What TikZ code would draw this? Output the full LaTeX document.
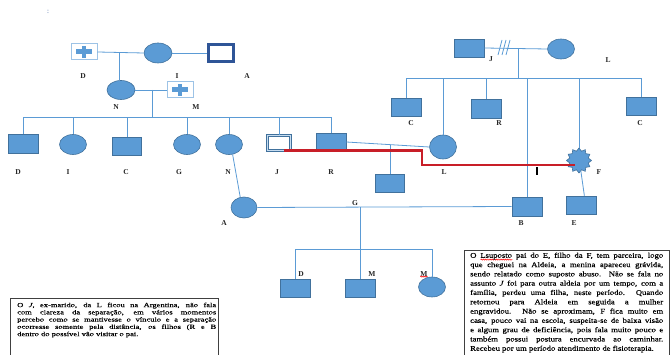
\documentclass[tikz,border=0pt]{standalone}
\usepackage{fontspec}
\setmainfont{Liberation Serif}
\newfontfamily\boxfontA[FakeStretch=1.35,FakeBold=0.6]{Liberation Serif}
\newfontfamily\boxfontB[FakeStretch=1.2,FakeBold=0.6]{Liberation Serif}
\usetikzlibrary{shapes.geometric,decorations.pathmorphing}
\definecolor{lineblue}{RGB}{91,155,213}
\definecolor{fillblue}{RGB}{91,155,213}
\definecolor{bordblue}{RGB}{65,113,156}
\definecolor{lightbord}{RGB}{157,195,230}
\definecolor{darkblue}{RGB}{47,85,151}
\definecolor{redline}{RGB}{200,30,40}
\definecolor{boxgray}{RGB}{64,64,64}
\newcommand{\drawgcross}[1]{%
  \fill[fillblue] ([shift={(-8,-2.5)}]#1.center) rectangle ([shift={(8,2.5)}]#1.center);
  \fill[fillblue] ([shift={(-2.2,-5.8)}]#1.center) rectangle ([shift={(2.2,5.8)}]#1.center);}
\newsavebox{\wavebox}
\newlength{\wavelen}
\newcommand{\redwave}[1]{\sbox{\wavebox}{#1}\setlength{\wavelen}{\wd\wavebox}%
  \rlap{\tikz[baseline=0pt,x=1pt,y=1pt]\draw[red,line width=0.5pt,decorate,decoration={snake,amplitude=0.6pt,segment length=2.2pt}] (0pt,-1.8pt) -- (\wavelen,-1.8pt);}\usebox{\wavebox}}
\begin{document}
\begin{tikzpicture}[x=1pt,y=-1pt,
 male/.style={rectangle, draw=bordblue, fill=fillblue, line width=0.6pt, minimum width=30pt, minimum height=18pt, inner sep=0},
 female/.style={ellipse, draw=bordblue, fill=fillblue, line width=0.6pt, minimum width=27pt, minimum height=20pt, inner sep=0},
 deadmale/.style={rectangle, draw=lightbord, fill=white, line width=1pt, minimum width=26pt, minimum height=16pt, inner sep=0},
 lbl/.style={font=\fontsize{7.5}{8}\selectfont\bfseries, inner sep=0, text=black!85},
 rel/.style={draw=lineblue, line width=0.8pt},
 boxframe/.style={draw=boxgray, line width=1.1pt, anchor=north west, inner sep=0},
]
\useasboundingbox (0,0) rectangle (670,355);
\node[font=\fontsize{7}{8}\selectfont, text=darkblue, inner sep=0] (colon) at (48,12) {:};

% top-left family
\node[deadmale] (Dg) at (84,52) {};
\drawgcross{Dg}
\node[female, minimum width=28pt] (Ig) at (158,53) {};
\node[rectangle, draw=darkblue, fill=white, line width=2.2pt, minimum width=25pt, minimum height=17pt, inner sep=0] (Ag) at (221,53) {};
\node[female, minimum width=28pt, minimum height=19pt] (Nm) at (121,90) {};
\node[deadmale] (Mf) at (180,90) {};
\drawgcross{Mf}
\draw[rel] (Dg.east) -- (Ig.west);
\draw[rel] (Ig.east) -- (Ag.west);
\coordinate (dj) at (119,52.5);
\draw[rel] (dj) -- (dj |- Nm.north);
\draw[rel] (Nm.east) -- (Mf.west);
\coordinate (nm) at (152,90);
\coordinate (sibL) at (152,117);
\draw[rel] (nm) -- (sibL);
\node[lbl] (lD) at (83,76) {D};
\node[lbl] (lI) at (177,76) {I};
\node[lbl] (lA) at (247,76) {A};
\node[lbl] (lN) at (116,107) {N};
\node[lbl] (lM) at (196,107) {M};

% children of N and M
\node[male, minimum height=19pt] (c1) at (23,143.5) {};
\node[female] (c2) at (73,144.5) {};
\node[male, minimum width=29pt] (c3) at (127,146) {};
\node[female] (c4) at (187,144.5) {};
\node[female] (c5) at (229,144.5) {};
\node[rectangle, draw=bordblue, double=lineblue!35, double distance=1.4pt, line width=0.6pt, fill=white, minimum width=23pt, minimum height=15pt, inner sep=0] (c6) at (279,143) {};
\node[male, minimum height=17pt] (c7) at (331,142) {};
\draw[rel] (c1.north |- sibL) -- (c7.north |- sibL);
\foreach \n in {c1,c2,c3,c4,c5,c6,c7} \draw[rel] (\n.north) -- (\n.north |- sibL);
\node[lbl] at (18,172) {D};
\node[lbl] at (68,172) {I};
\node[lbl] at (126,172) {C};
\node[lbl] at (179,172) {G};
\node[lbl] at (228,172) {N};
\node[lbl] at (277,172) {J};
\node[lbl] at (331,172) {R};

% N's daughter A with B
\node[female, minimum width=26pt, minimum height=21pt] (Af) at (244,207.5) {};
\draw[rel] (c5.-70) -- (Af.110);
\node[male, minimum height=19pt] (Bm) at (527,206.5) {};
\draw[rel] (Af.east) -- (Bm.west);
\node[lbl] at (224,223) {A};
\node[lbl] at (355,203) {G};
\coordinate (gj) at (360,207.3);
\coordinate (gsib) at (360,249);
\node[male] (g1) at (295,288) {};
\node[male] (g2) at (360,288) {};
\node[female] (g3) at (432,287) {};
\draw[rel] (gj) -- (g2.north);
\draw[rel] (g1.north |- gsib) -- (g3.north |- gsib);
\draw[rel] (g1.north) -- (g1.north |- gsib);
\draw[rel] (g3.north) -- (g3.north |- gsib);
\node[lbl] at (301,274) {D};
\node[lbl] at (372,274) {M};
\node[lbl] (lM3) at (424,274) {M};
\draw[red, line width=0.5pt, decorate, decoration={snake, amplitude=0.6pt, segment length=2pt}] (lM3.south west) -- (lM3.south east);

% R with L
\node[female, minimum height=24pt] (Lf) at (443,147) {};
\draw[rel] (c7.east) -- (Lf.west);
\coordinate (rl) at (390,144.6);
\node[male, minimum width=29pt] (rc) at (390,183) {};
\draw[rel] (rl) -- (rc.north);
\node[lbl] at (444,172) {L};

% top-right family
\node[male] (Jm) at (469,48) {};
\node[female] (Lt) at (561,49) {};
\draw[rel] (Jm.east) -- (Lt.west);
\draw[lineblue, line width=0.8pt] (498,55) -- (502,40) (502,55) -- (506,40) (506,55) -- (510,40);
\coordinate (jl) at (518,48.5);
\coordinate (jlsib) at (518,78);
\draw[rel] (jl) -- (jlsib);
\node[male] (t1) at (406,107) {};
\node[male, minimum height=19pt] (t3) at (486,108.5) {};
\node[male] (t6) at (641,106) {};
\node[star, star points=12, star point ratio=1.3, minimum size=25pt, fill=fillblue, draw=bordblue, line width=0.6pt, inner sep=0] (Ff) at (579,160.5) {};
\node[male] (Em) at (581,205) {};
\draw[rel] (t1.north |- jlsib) -- (t6.north |- jlsib);
\foreach \n in {t1,Lf,t3,Bm,Ff,t6} \draw[rel] (\n.north) -- (\n.north |- jlsib);
\draw[rel] (Ff.-80) -- (Em.70);
\node[lbl] at (491,59) {J};
\node[lbl] at (608,60) {L};
\node[lbl] at (411,123) {C};
\node[lbl] at (499,123) {R};
\node[lbl] at (640,123) {C};
\node[lbl] at (599,172) {F};
\node[lbl] at (574,223) {E};
\node[lbl] at (521,223) {B};

% red conflict line
\coordinate (rs) at ([xshift=-7pt]c6.south east);
\coordinate (rk) at (422,165);
\coordinate (redend) at ([shift={(-4,4.5)}]Ff.center);
\draw[redline, line width=2.6pt] (rs) -| (rk) -- (redend);
\draw[black, line width=1.6pt] (537,167) -- (537,175);

% text boxes
\node[boxframe, minimum width=208pt, minimum height=66pt] (box1) at (10,298) {};
\node[anchor=north west, inner sep=0, align=left, font=\boxfontA\fontsize{6.3}{7.25}\selectfont] (txt1) at (17,302.5) {%
\makebox[199pt][s]{O \textit{J}, ex-marido, da L ficou na Argentina, não fala}\\
\makebox[199pt][s]{com clareza da separação, em vários momentos}\\
\makebox[199pt][s]{percebo como se mantivesse o vínculo e a separação}\\
\makebox[199pt][s]{ocorresse somente pela distância, os filhos (R e B}\\
dentro do possível vão visitar o pai.};

\node[boxframe, minimum width=205pt, minimum height=115pt] (box2) at (464,250) {};
\node[anchor=north west, inner sep=0, align=left, font=\boxfontB\fontsize{7.2}{9.3}\selectfont] (txt2) at (470,252.5) {%
\makebox[193pt][s]{O \redwave{Lsuposto} pai do E, filho da F, tem parceira, logo}\\
\makebox[193pt][s]{que cheguei na Aldeia, a menina apareceu grávida,}\\
\makebox[193pt][s]{sendo relatado como suposto abuso. Não se fala no}\\
\makebox[193pt][s]{assunto \textit{J} foi para outra aldeia por um tempo, com a}\\
\makebox[193pt][s]{família, perdeu uma filha, neste período. Quando}\\
\makebox[193pt][s]{retornou para Aldeia em seguida a mulher}\\
\makebox[193pt][s]{engravidou. Não se aproximam, F fica muito em}\\
\makebox[193pt][s]{casa, pouco vai na escola, suspeita-se de baixa visão}\\
\makebox[193pt][s]{e algum grau de deficiência, pois fala muito pouco e}\\
\makebox[193pt][s]{também possui postura encurvada ao caminhar.}\\
Recebeu por um período atendimento de fisioterapia.};
\end{tikzpicture}
\end{document}
